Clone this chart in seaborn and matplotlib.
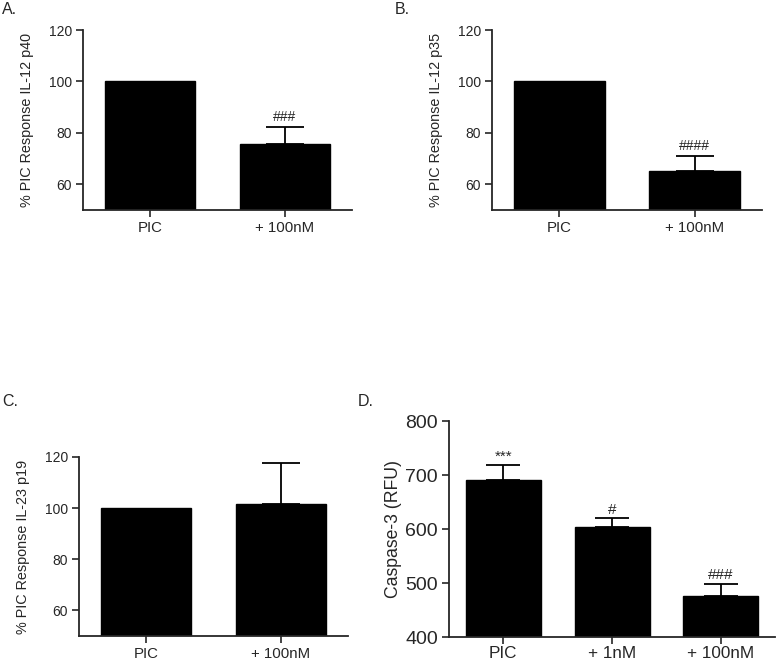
import matplotlib
matplotlib.use("Agg")
import matplotlib.pyplot as plt
import seaborn as sns
import pandas as pd

sns.set_style("ticks")
plt.rcParams['font.family'] = ['Liberation Sans', 'DejaVu Sans']

# Data
cats_ab = ["PIC", "+ 100nM"]
a_vals = [100, 75.7]
a_err = [0, 6.6]
a_sig = ["", "###"]

b_vals = [100, 65.0]
b_err = [0, 5.9]
b_sig = ["", "####"]

c_vals = [100, 101.6]
c_err = [0, 16.0]
c_sig = ["", ""]

cats_d = ["PIC", "+ 1nM", "+ 100nM"]
d_vals = [691, 604, 476]
d_err = [27, 16, 22]
d_sig = ["***", "#", "###"]

fig = plt.figure(figsize=(7.77, 6.64), dpi=100)

def panel(rect, cats, vals, errs, sigs, ylim, yticks, ylabel, yfs, xfs, lab_fs,
          sig_fs, width, capsize, sig_off, label_x, xpad=3):
    ax = fig.add_axes(rect)
    df = pd.DataFrame({"cat": cats, "val": vals})
    sns.barplot(data=df, x="cat", y="val", color="black", width=width,
                saturation=1, errorbar=None, ax=ax, edgecolor="black")
    for i, (v, e) in enumerate(zip(vals, errs)):
        if e > 0:
            ax.errorbar(i, v, yerr=[[0], [e]], fmt="none", ecolor="black",
                        elinewidth=1.3, capsize=capsize, capthick=1.3)
    for i, (v, e, s) in enumerate(zip(vals, errs, sigs)):
        if s:
            ax.text(i, v + e + sig_off, s, ha="center", va="bottom", fontsize=sig_fs)
    ax.set_ylim(*ylim)
    ax.set_yticks(yticks)
    ax.set_xlim(-0.5, len(cats) - 0.5)
    ax.set_xlabel("")
    ax.set_ylabel(ylabel, fontsize=lab_fs)
    ax.yaxis.set_label_coords(label_x, 0.5)
    ax.tick_params(axis="both", width=1.2, length=5, direction="out", pad=3)
    ax.tick_params(axis="y", labelsize=yfs)
    ax.tick_params(axis="x", labelsize=xfs, pad=xpad)
    sns.despine(ax=ax)
    for sp in ["left", "bottom"]:
        ax.spines[sp].set_linewidth(1.3)
    return ax

panel([0.1068, 0.6837, 0.3462, 0.2711], cats_ab, a_vals, a_err, a_sig,
      (50, 120), [60, 80, 100, 120], "% PIC Response IL-12 p40",
      10, 10.8, 10.4, 10, 0.67, 14, 1.2, -0.183)
panel([0.6332, 0.6837, 0.3475, 0.2711], cats_ab, b_vals, b_err, b_sig,
      (50, 120), [60, 80, 100, 120], "% PIC Response IL-12 p35",
      10, 10.8, 10.4, 10, 0.67, 14, 1.2, -0.183)
panel([0.1017, 0.0422, 0.3462, 0.2696], cats_ab, c_vals, c_err, c_sig,
      (50, 120), [60, 80, 100, 120], "% PIC Response IL-23 p19",
      10, 10.8, 10.4, 10, 0.67, 14, 1.2, -0.183)
panel([0.5779, 27 / 664, 0.4196, 216 / 664], cats_d, d_vals, d_err, d_sig,
      (400, 800), [400, 500, 600, 700, 800], "Caspase-3 (RFU)",
      14, 12.3, 12.7, 11, 0.69, 12, 3, -0.145, xpad=1.5)

fig.text(2 / 777, 1 - 9 / 664, "A.", fontsize=11.5, va="center", ha="left")
fig.text(395 / 777, 1 - 9 / 664, "B.", fontsize=11.5, va="center", ha="left")
fig.text(2 / 777, 1 - 401 / 664, "C.", fontsize=11.5, va="center", ha="left")
fig.text(358 / 777, 1 - 401 / 664, "D.", fontsize=11.5, va="center", ha="left")

fig.savefig("out.png", dpi=100)
